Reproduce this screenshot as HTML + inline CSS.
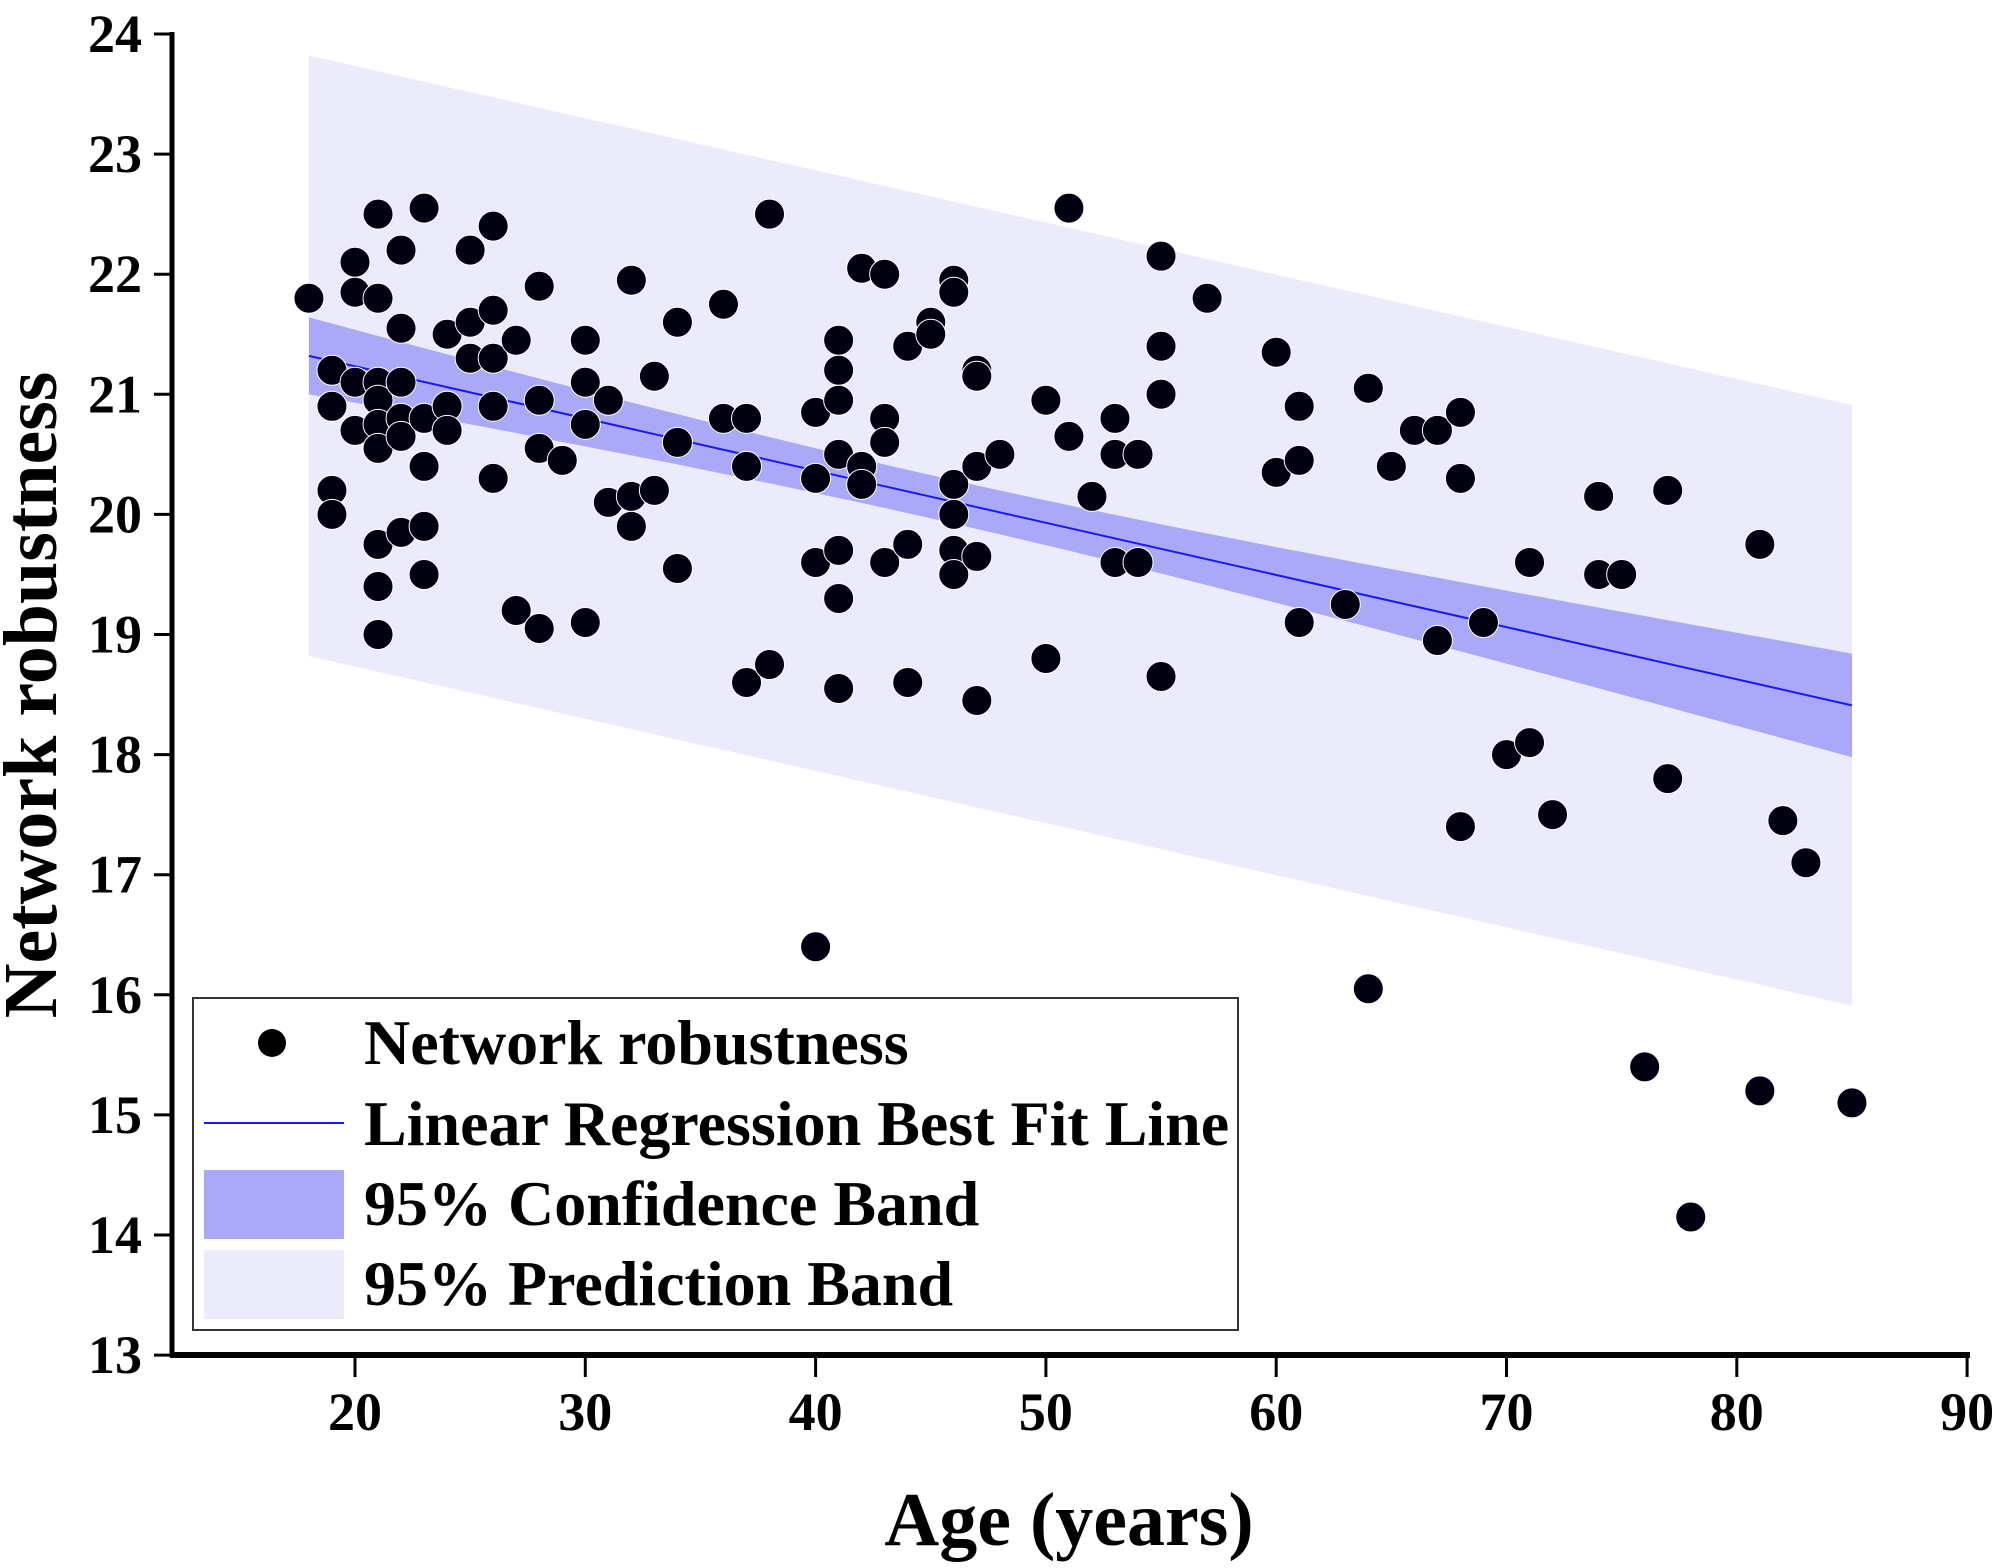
<!DOCTYPE html>
<html><head><meta charset="utf-8"><style>
html,body{margin:0;padding:0;background:#fff;}
svg{display:block;}
text{font-family:"Liberation Serif",serif;font-weight:bold;fill:#000;}
</style></head><body>
<svg id="chart" width="2000" height="1568" viewBox="0 0 2000 1568" xmlns="http://www.w3.org/2000/svg">
<g id="bands"></g>
<g id="points"></g>
<g id="axes"></g>
<g id="legend">
  <rect x="193" y="998" width="1045" height="332" fill="#fff" stroke="#333" stroke-width="2"/>
  <circle cx="272" cy="1043" r="14" fill="#000"/>
  <text x="364" y="1064" font-size="64">Network robustness</text>
  <line x1="204" y1="1123" x2="344" y2="1123" stroke="#1a1aee" stroke-width="2"/>
  <text x="364" y="1145" font-size="64">Linear Regression Best Fit Line</text>
  <rect x="204" y="1170" width="140" height="69" fill="#a9a9f8"/>
  <text x="364" y="1225" font-size="64">95% Confidence Band</text>
  <rect x="204" y="1250" width="140" height="69" fill="#ebebfc"/>
  <text x="364" y="1305" font-size="64">95% Prediction Band</text>
</g>
<text x="1069" y="1545" font-size="76" text-anchor="middle">Age (years)</text>
<text transform="translate(56,695) rotate(-90)" font-size="76" text-anchor="middle">Network robustness</text>
</svg>
<script>
const ages = [18,19,19,19,19,20,20,20,20,21,21,21,21,21,21,21,21,21,22,22,22,22,22,22,23,23,23,23,23,24,24,24,25,25,25,26,26,26,26,26,27,27,28,28,28,28,29,30,30,30,30,31,31,32,32,32,33,33,34,34,34,36,36,37,37,37,38,38,40,40,40,40,41,41,41,41,41,41,41,42,42,42,43,43,43,43,44,44,44,45,45,46,46,46,46,46,46,47,47,47,47,47,48,50,50,51,51,52,53,53,53,54,54,55,55,55,55,57,60,60,61,61,61,63,64,64,65,66,67,67,68,68,68,69,70,71,71,72,74,74,75,76,77,77,78,81,81,82,83,85];
const robustness = [21.8,21.2,20.9,20.2,20.0,22.1,21.85,21.1,20.7,22.5,21.8,21.1,20.95,20.75,20.55,19.75,19.4,19.0,22.2,21.55,21.1,20.8,20.65,19.85,22.55,20.8,20.4,19.9,19.5,21.5,20.9,20.7,22.2,21.6,21.3,22.4,21.7,21.3,20.9,20.3,21.45,19.2,21.9,20.95,20.55,19.05,20.45,21.45,21.1,20.75,19.1,20.95,20.1,21.95,20.15,19.9,21.15,20.2,21.6,20.6,19.55,21.75,20.8,20.8,20.4,18.6,22.5,18.75,20.85,20.3,19.6,16.4,21.45,21.2,20.95,20.5,19.7,19.3,18.55,22.05,20.4,20.25,22.0,20.8,20.6,19.6,21.4,19.75,18.6,21.6,21.5,21.95,21.85,20.25,20.0,19.7,19.5,21.2,21.15,20.4,19.65,18.45,20.5,20.95,18.8,22.55,20.65,20.15,20.8,20.5,19.6,20.5,19.6,22.15,21.4,21.0,18.65,21.8,21.35,20.35,20.9,20.45,19.1,19.25,21.05,16.05,20.4,20.7,20.7,18.95,20.85,20.3,17.4,19.1,18.0,19.6,18.1,17.5,20.15,19.5,19.5,15.4,20.2,17.8,14.15,19.75,15.2,17.45,17.1,15.1];
const fitEnds = [18, 85];
const fitValues = [21.32, 18.41];
const confHalfParams = [0.18, 0.0098, 45]; // base, slope, center age
const predHalfWidth = [2.5];
const xTicks = [20,30,40,50,60,70,80,90];
const yTicks = [13,14,15,16,17,18,19,20,21,22,23,24];

const NS='http://www.w3.org/2000/svg';
const X = v => 355 + (v-20)*23.03;
const Y = v => 34 + (24-v)*120.1;
function mk(tag, attrs, parent){const e=document.createElementNS(NS,tag);for(const k in attrs)e.setAttribute(k,attrs[k]);parent.appendChild(e);return e;}
const fit = a => fitValues[0] + (fitValues[1]-fitValues[0])*(a-fitEnds[0])/(fitEnds[1]-fitEnds[0]);
const confHW = a => Math.sqrt(confHalfParams[0]**2 + (confHalfParams[1]*(a-confHalfParams[2]))**2);

const bands=document.getElementById('bands');
function bandPath(hw){
  const up=[],lo=[];
  for(let i=0;i<=60;i++){const a=fitEnds[0]+(fitEnds[1]-fitEnds[0])*i/60;up.push(X(a).toFixed(1)+','+Y(fit(a)+hw(a)).toFixed(1));lo.unshift(X(a).toFixed(1)+','+Y(fit(a)-hw(a)).toFixed(1));}
  return 'M'+up.join('L')+'L'+lo.join('L')+'Z';
}
const pb=mk('path',{d:bandPath(()=>predHalfWidth[0]),fill:'#ebebfc'},bands);


const cb=mk('path',{d:bandPath(confHW),fill:'#a9a9f8'},bands);


const fl=mk('line',{x1:X(fitEnds[0]),y1:Y(fitValues[0]),x2:X(fitEnds[1]),y2:Y(fitValues[1]),stroke:'#1a1aee','stroke-width':2},bands);



const pts=document.getElementById('points');
ages.forEach((a,i)=>{
  const c=mk('circle',{cx:X(a),cy:Y(robustness[i]),r:15,fill:'#000010',stroke:'#fff','stroke-width':1},pts);
  
  
});

const ax=document.getElementById('axes');
const yl=mk('line',{x1:172,y1:32,x2:172,y2:1357,stroke:'#000','stroke-width':5},ax);


const xl=mk('line',{x1:170,y1:1355,x2:1970,y2:1355,stroke:'#000','stroke-width':6},ax);


yTicks.forEach(t=>{
  const tk=mk('line',{x1:154,y1:Y(t),x2:172,y2:Y(t),stroke:'#000','stroke-width':3},ax);
  
  
  const lb=mk('text',{x:142,y:Y(t)+18,'font-size':54,'text-anchor':'end'},ax);
  lb.textContent=t;
  
  
});
xTicks.forEach(t=>{
  const tk=mk('line',{x1:X(t),y1:1355,x2:X(t),y2:1377,stroke:'#000','stroke-width':3},ax);
  
  
  const lb=mk('text',{x:X(t),y:1430,'font-size':54,'text-anchor':'middle'},ax);
  lb.textContent=t;
  
  
});
</script>
</body></html>
